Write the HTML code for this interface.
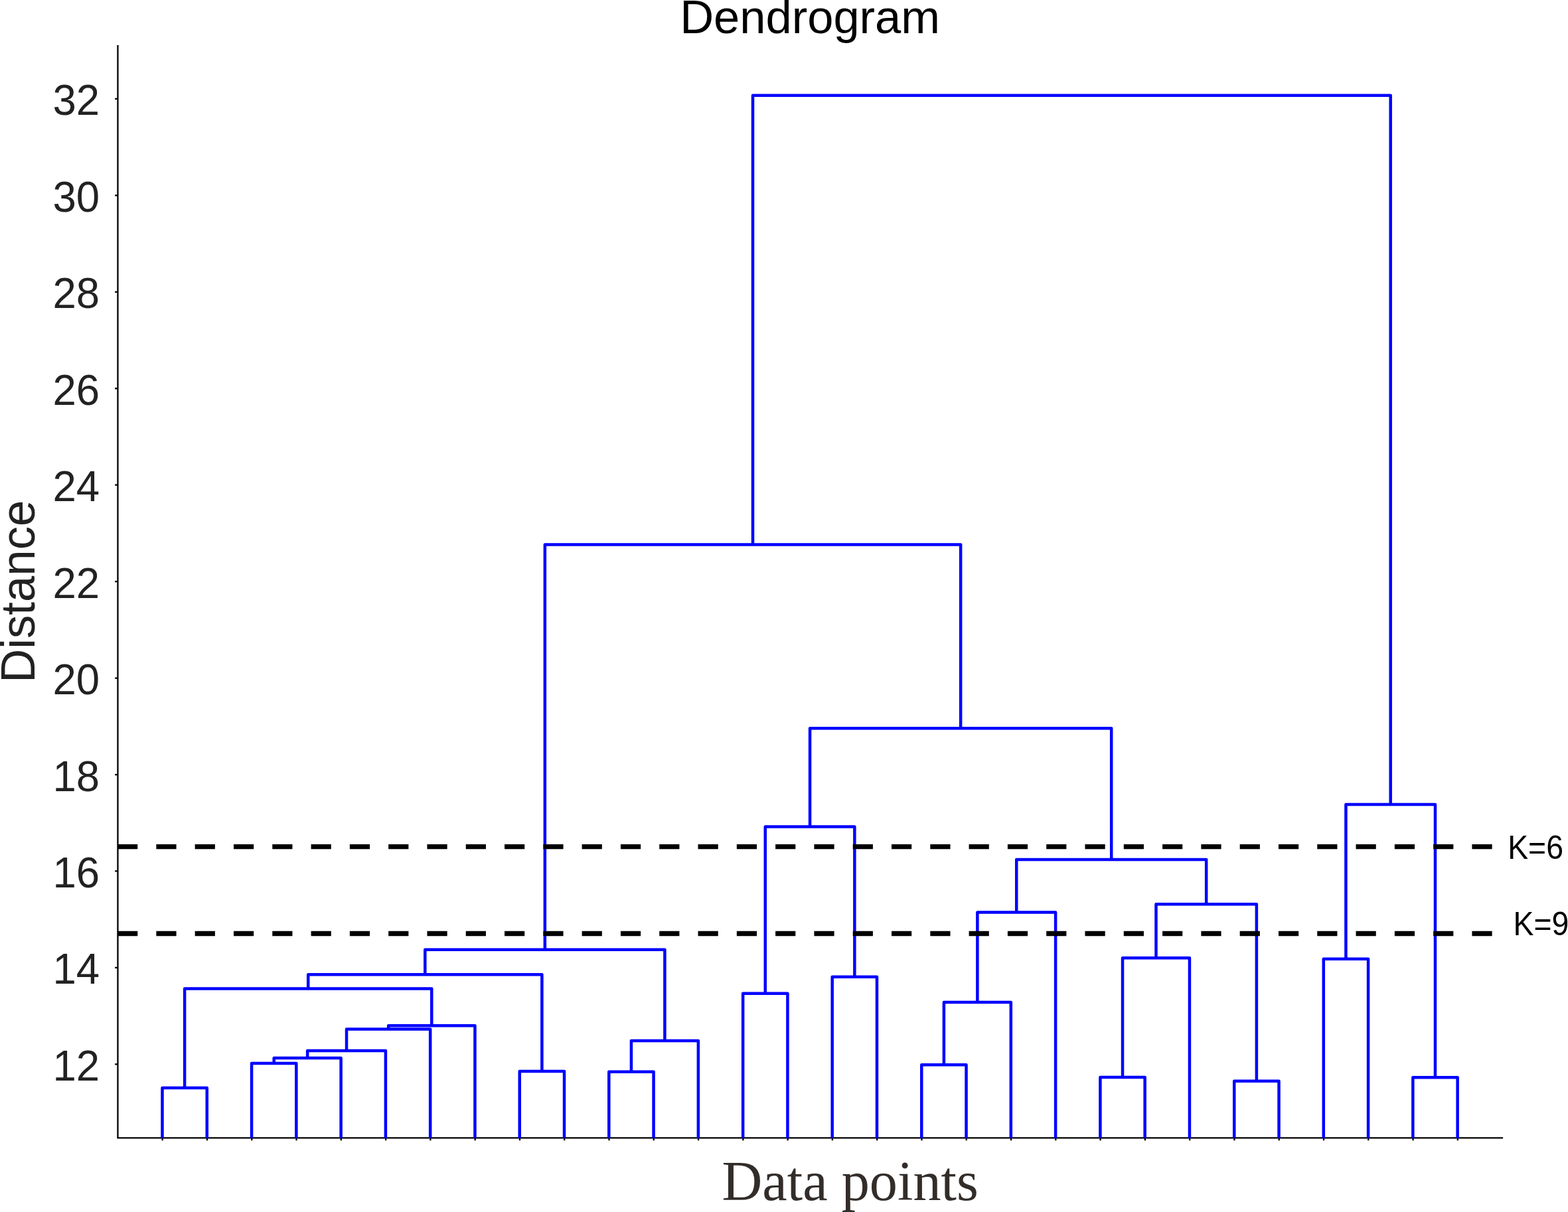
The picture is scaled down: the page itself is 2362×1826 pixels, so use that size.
<!DOCTYPE html>
<html lang="en">
<head>
<meta charset="utf-8">
<title>Dendrogram</title>
<style>
html,body{margin:0;padding:0;background:#fff;}
body{width:2362px;height:1826px;overflow:hidden;}
svg{display:block;}
text{font-family:"Liberation Sans",Arial,Helvetica,sans-serif;}
.serif{font-family:"Liberation Serif","Times New Roman",Times,serif;}
</style>
</head>
<body>
<svg width="2362" height="1826" viewBox="0 0 2362 1826">
<rect width="2362" height="1826" fill="#ffffff"/>
<text id="title" x="1220.1" y="50.1" font-size="70.5" text-anchor="middle" fill="#000000">Dendrogram</text>
<text id="ylabel" transform="translate(51.5 891.2) rotate(-90) scale(0.99 1)" font-size="71.5" text-anchor="middle" fill="#222222">Distance</text>
<text id="xlabel" class="serif" transform="translate(1280.6 1808) scale(0.985 1)" font-size="85.6" text-anchor="middle" fill="#332d2a">Data points</text>
<g id="yticks" font-size="64" text-anchor="end" fill="#222222">
<text transform="translate(150.1 1627.8) scale(0.993 1)">12</text>
<text transform="translate(150.1 1482.4) scale(0.993 1)">14</text>
<text transform="translate(150.1 1337.0) scale(0.993 1)">16</text>
<text transform="translate(150.1 1191.5) scale(0.993 1)">18</text>
<text transform="translate(150.1 1046.1) scale(0.993 1)">20</text>
<text transform="translate(150.1 900.6) scale(0.993 1)">22</text>
<text transform="translate(150.1 755.2) scale(0.993 1)">24</text>
<text transform="translate(150.1 609.8) scale(0.993 1)">26</text>
<text transform="translate(150.1 464.3) scale(0.993 1)">28</text>
<text transform="translate(150.1 318.9) scale(0.993 1)">30</text>
<text transform="translate(150.1 173.4) scale(0.993 1)">32</text>
</g>
<g id="klabels" font-size="49.4" fill="#000000">
<text transform="translate(2271.2 1293.8) scale(0.9385 1)">K=6</text>
<text transform="translate(2279.6 1408.5) scale(0.9385 1)">K=9</text>
</g>
<g stroke="#000000" stroke-width="2.3" fill="none">
<path d="M177.45 68.0V1714.3H2264.1"/>
<path d="M173.15 1603.35H177.45M173.15 1457.91H177.45M173.15 1312.47H177.45M173.15 1167.03H177.45M173.15 1021.59H177.45M173.15 876.15H177.45M173.15 730.71H177.45M173.15 585.27H177.45M173.15 439.83H177.45M173.15 294.39H177.45M173.15 148.95H177.45"/>
<path d="M244.70 1714.3V1718.20M311.98 1714.3V1718.20M379.26 1714.3V1718.20M446.54 1714.3V1718.20M513.82 1714.3V1718.20M581.10 1714.3V1718.20M648.38 1714.3V1718.20M715.66 1714.3V1718.20M782.94 1714.3V1718.20M850.22 1714.3V1718.20M917.50 1714.3V1718.20M984.78 1714.3V1718.20M1052.06 1714.3V1718.20M1119.34 1714.3V1718.20M1186.62 1714.3V1718.20M1253.90 1714.3V1718.20M1321.18 1714.3V1718.20M1388.46 1714.3V1718.20M1455.74 1714.3V1718.20M1523.02 1714.3V1718.20M1590.30 1714.3V1718.20M1657.58 1714.3V1718.20M1724.86 1714.3V1718.20M1792.14 1714.3V1718.20M1859.42 1714.3V1718.20M1926.70 1714.3V1718.20M1993.98 1714.3V1718.20M2061.26 1714.3V1718.20M2128.54 1714.3V1718.20M2195.82 1714.3V1718.20"/>
</g>
<g stroke="#0000ff" stroke-width="4.5" fill="none" stroke-linejoin="round" stroke-linecap="butt">
<path d="M244.50 1714.70V1638.98H311.78V1714.70"/>
<path d="M379.06 1714.70V1601.90H446.34V1714.70"/>
<path d="M412.70 1601.90V1593.90H513.62V1714.70"/>
<path d="M463.16 1593.90V1582.99H580.90V1714.70"/>
<path d="M522.03 1582.99V1550.48H648.18V1714.70"/>
<path d="M585.11 1550.48V1545.17H715.46V1714.70"/>
<path d="M278.14 1638.98V1489.54H650.28V1545.17"/>
<path d="M782.74 1714.70V1613.89H850.02V1714.70"/>
<path d="M464.21 1489.54V1468.24H816.38V1613.89"/>
<path d="M917.30 1714.70V1614.77H984.58V1714.70"/>
<path d="M950.94 1614.77V1567.94H1051.86V1714.70"/>
<path d="M640.30 1468.24V1430.79H1001.40V1567.94"/>
<path d="M1119.14 1714.70V1496.67H1186.42V1714.70"/>
<path d="M1253.70 1714.70V1471.73H1320.98V1714.70"/>
<path d="M1152.78 1496.67V1245.57H1287.34V1471.73"/>
<path d="M1388.26 1714.70V1604.30H1455.54V1714.70"/>
<path d="M1421.90 1604.30V1509.90H1522.82V1714.70"/>
<path d="M1472.36 1509.90V1374.50H1590.10V1714.70"/>
<path d="M1657.38 1714.70V1622.98H1724.66V1714.70"/>
<path d="M1691.02 1622.98V1443.37H1791.94V1714.70"/>
<path d="M1859.22 1714.70V1628.66H1926.50V1714.70"/>
<path d="M1741.48 1443.37V1362.21H1892.86V1628.66"/>
<path d="M1531.23 1374.50V1295.02H1817.17V1362.21"/>
<path d="M1220.06 1245.57V1097.22H1674.20V1295.02"/>
<path d="M820.85 1430.79V820.45H1447.13V1097.22"/>
<path d="M1993.78 1714.70V1444.82H2061.06V1714.70"/>
<path d="M2128.34 1714.70V1623.35H2195.62V1714.70"/>
<path d="M2027.42 1444.82V1212.12H2161.98V1623.35"/>
<path d="M1133.99 820.45V143.68H2094.70V1212.12"/>
</g>
<g stroke="#000000" stroke-width="7.4" stroke-dasharray="30.2 28.095" fill="none">
<path d="M177.1 1275.65H2250"/>
<path d="M177.1 1406.55H2250"/>
</g>
</svg>
</body>
</html>
